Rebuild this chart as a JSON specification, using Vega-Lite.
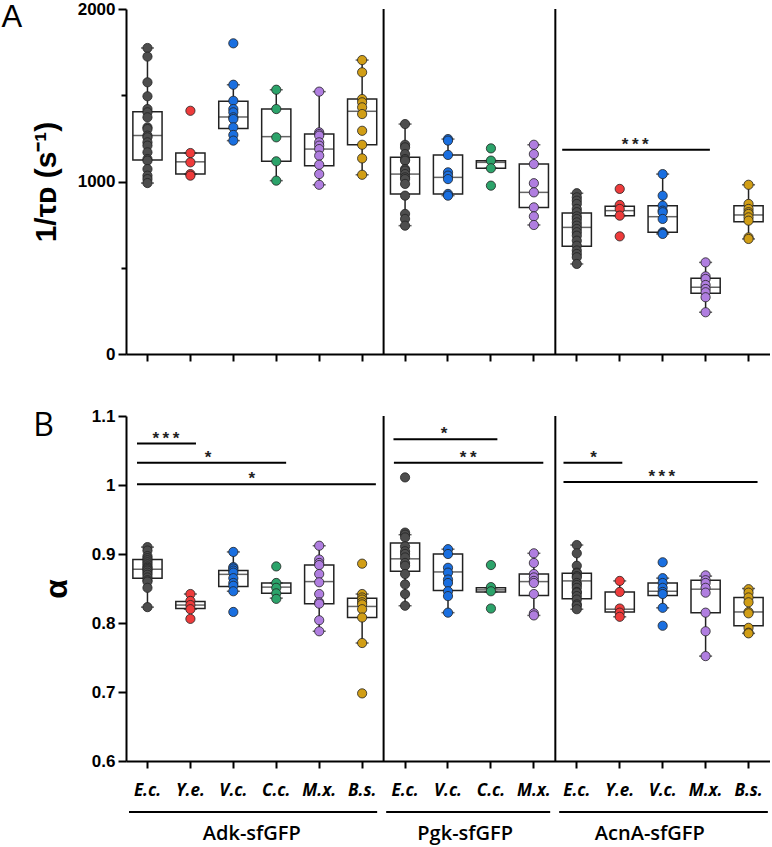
{
"$schema": "https://vega.github.io/schema/vega-lite/v6.json",
"background": "white",
"padding": {"left": 1, "top": 0, "right": 0, "bottom": 0},
"spacing": 45,
"config": {"view": {"stroke": null}, "font": "Liberation Sans"},
"datasets": {
"ptsA": [
{"cat":"Adk:E.c.","v":1774},{"cat":"Adk:E.c.","v":1724},{"cat":"Adk:E.c.","v":1575},{"cat":"Adk:E.c.","v":1494},{"cat":"Adk:E.c.","v":1420},{"cat":"Adk:E.c.","v":1401},{"cat":"Adk:E.c.","v":1372},{"cat":"Adk:E.c.","v":1314},{"cat":"Adk:E.c.","v":1304},{"cat":"Adk:E.c.","v":1266},{"cat":"Adk:E.c.","v":1256},{"cat":"Adk:E.c.","v":1227},{"cat":"Adk:E.c.","v":1208},{"cat":"Adk:E.c.","v":1169},{"cat":"Adk:E.c.","v":1130},{"cat":"Adk:E.c.","v":1121},{"cat":"Adk:E.c.","v":1072},{"cat":"Adk:E.c.","v":1034},{"cat":"Adk:E.c.","v":1014},{"cat":"Adk:E.c.","v":991},
{"cat":"Adk:Y.e.","v":1410},{"cat":"Adk:Y.e.","v":1165},{"cat":"Adk:Y.e.","v":1111},{"cat":"Adk:Y.e.","v":1043},{"cat":"Adk:Y.e.","v":1034},
{"cat":"Adk:V.c.","v":1801},{"cat":"Adk:V.c.","v":1561},{"cat":"Adk:V.c.","v":1468},{"cat":"Adk:V.c.","v":1420},{"cat":"Adk:V.c.","v":1401},{"cat":"Adk:V.c.","v":1372},{"cat":"Adk:V.c.","v":1362},{"cat":"Adk:V.c.","v":1314},{"cat":"Adk:V.c.","v":1270},{"cat":"Adk:V.c.","v":1237},
{"cat":"Adk:C.c.","v":1532},{"cat":"Adk:C.c.","v":1420},{"cat":"Adk:C.c.","v":1256},{"cat":"Adk:C.c.","v":1117},{"cat":"Adk:C.c.","v":1005},
{"cat":"Adk:M.x.","v":1521},{"cat":"Adk:M.x.","v":1285},{"cat":"Adk:M.x.","v":1275},{"cat":"Adk:M.x.","v":1266},{"cat":"Adk:M.x.","v":1227},{"cat":"Adk:M.x.","v":1208},{"cat":"Adk:M.x.","v":1188},{"cat":"Adk:M.x.","v":1150},{"cat":"Adk:M.x.","v":1097},{"cat":"Adk:M.x.","v":1043},{"cat":"Adk:M.x.","v":981},
{"cat":"Adk:B.s.","v":1704},{"cat":"Adk:B.s.","v":1633},{"cat":"Adk:B.s.","v":1478},{"cat":"Adk:B.s.","v":1459},{"cat":"Adk:B.s.","v":1430},{"cat":"Adk:B.s.","v":1391},{"cat":"Adk:B.s.","v":1294},{"cat":"Adk:B.s.","v":1213},{"cat":"Adk:B.s.","v":1134},{"cat":"Adk:B.s.","v":1039},
{"cat":"Pgk:E.c.","v":1333},{"cat":"Pgk:E.c.","v":1213},{"cat":"Pgk:E.c.","v":1198},{"cat":"Pgk:E.c.","v":1159},{"cat":"Pgk:E.c.","v":1130},{"cat":"Pgk:E.c.","v":1121},{"cat":"Pgk:E.c.","v":1072},{"cat":"Pgk:E.c.","v":1063},{"cat":"Pgk:E.c.","v":1043},{"cat":"Pgk:E.c.","v":1024},{"cat":"Pgk:E.c.","v":1014},{"cat":"Pgk:E.c.","v":986},{"cat":"Pgk:E.c.","v":918},{"cat":"Pgk:E.c.","v":812},{"cat":"Pgk:E.c.","v":783},{"cat":"Pgk:E.c.","v":744},
{"cat":"Pgk:V.c.","v":1246},{"cat":"Pgk:V.c.","v":1237},{"cat":"Pgk:V.c.","v":1154},{"cat":"Pgk:V.c.","v":1053},{"cat":"Pgk:V.c.","v":1034},{"cat":"Pgk:V.c.","v":1014},{"cat":"Pgk:V.c.","v":928},{"cat":"Pgk:V.c.","v":918},
{"cat":"Pgk:C.c.","v":1192},{"cat":"Pgk:C.c.","v":1121},{"cat":"Pgk:C.c.","v":1077},{"cat":"Pgk:C.c.","v":976},
{"cat":"Pgk:M.x.","v":1213},{"cat":"Pgk:M.x.","v":1159},{"cat":"Pgk:M.x.","v":1101},{"cat":"Pgk:M.x.","v":990},{"cat":"Pgk:M.x.","v":937},{"cat":"Pgk:M.x.","v":850},{"cat":"Pgk:M.x.","v":798},{"cat":"Pgk:M.x.","v":748},
{"cat":"AcnA:E.c.","v":932},{"cat":"AcnA:E.c.","v":908},{"cat":"AcnA:E.c.","v":889},{"cat":"AcnA:E.c.","v":870},{"cat":"AcnA:E.c.","v":841},{"cat":"AcnA:E.c.","v":822},{"cat":"AcnA:E.c.","v":798},{"cat":"AcnA:E.c.","v":783},{"cat":"AcnA:E.c.","v":763},{"cat":"AcnA:E.c.","v":744},{"cat":"AcnA:E.c.","v":725},{"cat":"AcnA:E.c.","v":706},{"cat":"AcnA:E.c.","v":686},{"cat":"AcnA:E.c.","v":657},{"cat":"AcnA:E.c.","v":628},{"cat":"AcnA:E.c.","v":600},{"cat":"AcnA:E.c.","v":580},{"cat":"AcnA:E.c.","v":561},{"cat":"AcnA:E.c.","v":522},
{"cat":"AcnA:Y.e.","v":957},{"cat":"AcnA:Y.e.","v":864},{"cat":"AcnA:Y.e.","v":841},{"cat":"AcnA:Y.e.","v":802},{"cat":"AcnA:Y.e.","v":682},
{"cat":"AcnA:V.c.","v":1043},{"cat":"AcnA:V.c.","v":918},{"cat":"AcnA:V.c.","v":860},{"cat":"AcnA:V.c.","v":831},{"cat":"AcnA:V.c.","v":822},{"cat":"AcnA:V.c.","v":783},{"cat":"AcnA:V.c.","v":706},{"cat":"AcnA:V.c.","v":701},{"cat":"AcnA:V.c.","v":696},
{"cat":"AcnA:M.x.","v":531},{"cat":"AcnA:M.x.","v":450},{"cat":"AcnA:M.x.","v":435},{"cat":"AcnA:M.x.","v":400},{"cat":"AcnA:M.x.","v":377},{"cat":"AcnA:M.x.","v":358},{"cat":"AcnA:M.x.","v":329},{"cat":"AcnA:M.x.","v":242},
{"cat":"AcnA:B.s.","v":981},{"cat":"AcnA:B.s.","v":870},{"cat":"AcnA:B.s.","v":841},{"cat":"AcnA:B.s.","v":822},{"cat":"AcnA:B.s.","v":812},{"cat":"AcnA:B.s.","v":792},{"cat":"AcnA:B.s.","v":773},{"cat":"AcnA:B.s.","v":676},{"cat":"AcnA:B.s.","v":667}
],
"boxA": [
{"cat":"Adk:E.c.","lo":991,"q1":1124,"med":1266,"q3":1405,"hi":1774},
{"cat":"Adk:Y.e.","lo":1043,"q1":1043,"med":1114,"q3":1165,"hi":1165},
{"cat":"Adk:V.c.","lo":1237,"q1":1307,"med":1374,"q3":1465,"hi":1561},
{"cat":"Adk:C.c.","lo":1005,"q1":1117,"med":1260,"q3":1420,"hi":1532},
{"cat":"Adk:M.x.","lo":981,"q1":1092,"med":1188,"q3":1276,"hi":1521},
{"cat":"Adk:B.s.","lo":1039,"q1":1213,"med":1407,"q3":1478,"hi":1704},
{"cat":"Pgk:E.c.","lo":744,"q1":928,"med":1043,"q3":1140,"hi":1333},
{"cat":"Pgk:V.c.","lo":918,"q1":928,"med":1024,"q3":1154,"hi":1246},
{"cat":"Pgk:C.c.","lo":1077,"q1":1077,"med":1111,"q3":1121,"hi":1121},
{"cat":"Pgk:M.x.","lo":748,"q1":850,"med":937,"q3":1101,"hi":1213},
{"cat":"AcnA:E.c.","lo":522,"q1":624,"med":734,"q3":817,"hi":932},
{"cat":"AcnA:Y.e.","lo":802,"q1":802,"med":831,"q3":856,"hi":856},
{"cat":"AcnA:V.c.","lo":696,"q1":706,"med":796,"q3":860,"hi":1043},
{"cat":"AcnA:M.x.","lo":242,"q1":352,"med":387,"q3":439,"hi":531},
{"cat":"AcnA:B.s.","lo":667,"q1":767,"med":806,"q3":860,"hi":981}
],
"ptsB": [
{"cat":"Adk:E.c.","v":0.910},{"cat":"Adk:E.c.","v":0.905},{"cat":"Adk:E.c.","v":0.897},{"cat":"Adk:E.c.","v":0.894},{"cat":"Adk:E.c.","v":0.891},{"cat":"Adk:E.c.","v":0.888},{"cat":"Adk:E.c.","v":0.885},{"cat":"Adk:E.c.","v":0.882},{"cat":"Adk:E.c.","v":0.880},{"cat":"Adk:E.c.","v":0.878},{"cat":"Adk:E.c.","v":0.876},{"cat":"Adk:E.c.","v":0.873},{"cat":"Adk:E.c.","v":0.870},{"cat":"Adk:E.c.","v":0.866},{"cat":"Adk:E.c.","v":0.862},{"cat":"Adk:E.c.","v":0.860},{"cat":"Adk:E.c.","v":0.851},{"cat":"Adk:E.c.","v":0.823},
{"cat":"Adk:Y.e.","v":0.842},{"cat":"Adk:Y.e.","v":0.832},{"cat":"Adk:Y.e.","v":0.826},{"cat":"Adk:Y.e.","v":0.820},{"cat":"Adk:Y.e.","v":0.806},
{"cat":"Adk:V.c.","v":0.903},{"cat":"Adk:V.c.","v":0.881},{"cat":"Adk:V.c.","v":0.879},{"cat":"Adk:V.c.","v":0.876},{"cat":"Adk:V.c.","v":0.873},{"cat":"Adk:V.c.","v":0.865},{"cat":"Adk:V.c.","v":0.858},{"cat":"Adk:V.c.","v":0.854},{"cat":"Adk:V.c.","v":0.846},{"cat":"Adk:V.c.","v":0.816},
{"cat":"Adk:C.c.","v":0.882},{"cat":"Adk:C.c.","v":0.858},{"cat":"Adk:C.c.","v":0.851},{"cat":"Adk:C.c.","v":0.843},{"cat":"Adk:C.c.","v":0.835},
{"cat":"Adk:M.x.","v":0.912},{"cat":"Adk:M.x.","v":0.892},{"cat":"Adk:M.x.","v":0.887},{"cat":"Adk:M.x.","v":0.884},{"cat":"Adk:M.x.","v":0.871},{"cat":"Adk:M.x.","v":0.859},{"cat":"Adk:M.x.","v":0.842},{"cat":"Adk:M.x.","v":0.830},{"cat":"Adk:M.x.","v":0.828},{"cat":"Adk:M.x.","v":0.804},{"cat":"Adk:M.x.","v":0.788},
{"cat":"Adk:B.s.","v":0.886},{"cat":"Adk:B.s.","v":0.842},{"cat":"Adk:B.s.","v":0.837},{"cat":"Adk:B.s.","v":0.834},{"cat":"Adk:B.s.","v":0.830},{"cat":"Adk:B.s.","v":0.827},{"cat":"Adk:B.s.","v":0.820},{"cat":"Adk:B.s.","v":0.808},{"cat":"Adk:B.s.","v":0.771},{"cat":"Adk:B.s.","v":0.698},
{"cat":"Pgk:E.c.","v":1.011},{"cat":"Pgk:E.c.","v":0.931},{"cat":"Pgk:E.c.","v":0.928},{"cat":"Pgk:E.c.","v":0.924},{"cat":"Pgk:E.c.","v":0.911},{"cat":"Pgk:E.c.","v":0.904},{"cat":"Pgk:E.c.","v":0.900},{"cat":"Pgk:E.c.","v":0.895},{"cat":"Pgk:E.c.","v":0.887},{"cat":"Pgk:E.c.","v":0.883},{"cat":"Pgk:E.c.","v":0.871},{"cat":"Pgk:E.c.","v":0.856},{"cat":"Pgk:E.c.","v":0.842},{"cat":"Pgk:E.c.","v":0.825},
{"cat":"Pgk:V.c.","v":0.907},{"cat":"Pgk:V.c.","v":0.900},{"cat":"Pgk:V.c.","v":0.880},{"cat":"Pgk:V.c.","v":0.873},{"cat":"Pgk:V.c.","v":0.863},{"cat":"Pgk:V.c.","v":0.858},{"cat":"Pgk:V.c.","v":0.846},{"cat":"Pgk:V.c.","v":0.839},{"cat":"Pgk:V.c.","v":0.815},
{"cat":"Pgk:C.c.","v":0.884},{"cat":"Pgk:C.c.","v":0.852},{"cat":"Pgk:C.c.","v":0.846},{"cat":"Pgk:C.c.","v":0.821},
{"cat":"Pgk:M.x.","v":0.901},{"cat":"Pgk:M.x.","v":0.887},{"cat":"Pgk:M.x.","v":0.871},{"cat":"Pgk:M.x.","v":0.866},{"cat":"Pgk:M.x.","v":0.861},{"cat":"Pgk:M.x.","v":0.858},{"cat":"Pgk:M.x.","v":0.842},{"cat":"Pgk:M.x.","v":0.814},{"cat":"Pgk:M.x.","v":0.811},
{"cat":"AcnA:E.c.","v":0.913},{"cat":"AcnA:E.c.","v":0.901},{"cat":"AcnA:E.c.","v":0.883},{"cat":"AcnA:E.c.","v":0.873},{"cat":"AcnA:E.c.","v":0.872},{"cat":"AcnA:E.c.","v":0.868},{"cat":"AcnA:E.c.","v":0.866},{"cat":"AcnA:E.c.","v":0.858},{"cat":"AcnA:E.c.","v":0.855},{"cat":"AcnA:E.c.","v":0.851},{"cat":"AcnA:E.c.","v":0.845},{"cat":"AcnA:E.c.","v":0.844},{"cat":"AcnA:E.c.","v":0.839},{"cat":"AcnA:E.c.","v":0.834},{"cat":"AcnA:E.c.","v":0.827},{"cat":"AcnA:E.c.","v":0.825},{"cat":"AcnA:E.c.","v":0.820},
{"cat":"AcnA:Y.e.","v":0.861},{"cat":"AcnA:Y.e.","v":0.845},{"cat":"AcnA:Y.e.","v":0.821},{"cat":"AcnA:Y.e.","v":0.815},{"cat":"AcnA:Y.e.","v":0.809},
{"cat":"AcnA:V.c.","v":0.888},{"cat":"AcnA:V.c.","v":0.865},{"cat":"AcnA:V.c.","v":0.858},{"cat":"AcnA:V.c.","v":0.851},{"cat":"AcnA:V.c.","v":0.845},{"cat":"AcnA:V.c.","v":0.842},{"cat":"AcnA:V.c.","v":0.822},{"cat":"AcnA:V.c.","v":0.796},
{"cat":"AcnA:M.x.","v":0.869},{"cat":"AcnA:M.x.","v":0.862},{"cat":"AcnA:M.x.","v":0.858},{"cat":"AcnA:M.x.","v":0.851},{"cat":"AcnA:M.x.","v":0.844},{"cat":"AcnA:M.x.","v":0.815},{"cat":"AcnA:M.x.","v":0.788},{"cat":"AcnA:M.x.","v":0.752},
{"cat":"AcnA:B.s.","v":0.849},{"cat":"AcnA:B.s.","v":0.844},{"cat":"AcnA:B.s.","v":0.837},{"cat":"AcnA:B.s.","v":0.830},{"cat":"AcnA:B.s.","v":0.816},{"cat":"AcnA:B.s.","v":0.814},{"cat":"AcnA:B.s.","v":0.793},{"cat":"AcnA:B.s.","v":0.786},{"cat":"AcnA:B.s.","v":0.785}
],
"boxB": [
{"cat":"Adk:E.c.","lo":0.823,"q1":0.865,"med":0.878,"q3":0.892,"hi":0.910},
{"cat":"Adk:Y.e.","lo":0.820,"q1":0.821,"med":0.826,"q3":0.831,"hi":0.842},
{"cat":"Adk:V.c.","lo":0.846,"q1":0.853,"med":0.8705,"q3":0.876,"hi":0.903},
{"cat":"Adk:C.c.","lo":0.836,"q1":0.843,"med":0.852,"q3":0.858,"hi":0.858},
{"cat":"Adk:M.x.","lo":0.788,"q1":0.828,"med":0.860,"q3":0.884,"hi":0.912},
{"cat":"Adk:B.s.","lo":0.771,"q1":0.808,"med":0.824,"q3":0.836,"hi":0.842},
{"cat":"Pgk:E.c.","lo":0.825,"q1":0.875,"med":0.893,"q3":0.916,"hi":0.928},
{"cat":"Pgk:V.c.","lo":0.815,"q1":0.847,"med":0.874,"q3":0.900,"hi":0.907},
{"cat":"Pgk:C.c.","lo":0.845,"q1":0.845,"med":0.848,"q3":0.851,"hi":0.851},
{"cat":"Pgk:M.x.","lo":0.811,"q1":0.840,"med":0.860,"q3":0.871,"hi":0.901},
{"cat":"AcnA:E.c.","lo":0.820,"q1":0.835,"med":0.861,"q3":0.872,"hi":0.913},
{"cat":"AcnA:Y.e.","lo":0.809,"q1":0.816,"med":0.820,"q3":0.845,"hi":0.861},
{"cat":"AcnA:V.c.","lo":0.822,"q1":0.840,"med":0.846,"q3":0.858,"hi":0.865},
{"cat":"AcnA:M.x.","lo":0.752,"q1":0.815,"med":0.849,"q3":0.862,"hi":0.868},
{"cat":"AcnA:B.s.","lo":0.785,"q1":0.796,"med":0.816,"q3":0.837,"hi":0.850}
],
"seps": [{"u":6},{"u":10}],
"sigA": [{"u":10.16,"u2":13.6,"um":11.86,"y":1184,"label":"*\u2009*\u2009*"}],
"sigB": [
{"u":0.256,"u2":1.63,"um":0.93,"y":1.060,"label":"*\u2009*\u2009*"},
{"u":0.256,"u2":3.73,"um":1.91,"y":1.0324,"label":"*"},
{"u":0.256,"u2":5.82,"um":2.93,"y":1.001,"label":"*"},
{"u":6.23,"u2":8.65,"um":7.41,"y":1.0662,"label":"*"},
{"u":6.24,"u2":9.72,"um":7.97,"y":1.0324,"label":"*\u2009*"},
{"u":10.19,"u2":11.56,"um":10.89,"y":1.0324,"label":"*"},
{"u":10.19,"u2":14.71,"um":12.48,"y":1.0043,"label":"*\u2009*\u2009*"}
],
"groups": [
{"u":0.07,"u2":5.85,"um":2.93,"y":0.526,"ty":0.4935,"label":"Adk-sfGFP"},
{"u":6.06,"u2":9.88,"um":7.9,"y":0.526,"ty":0.4935,"label":"Pgk-sfGFP"},
{"u":10.09,"u2":14.95,"um":12.2,"y":0.526,"ty":0.4935,"label":"AcnA-sfGFP"}
],
"letterA": [{"u":-2.66,"y":1894,"label":"A"}],
"letterB": [{"u":-1.92,"y":1.0855,"label":"B"}]
},
"vconcat": [
{
"width": 644, "height": 345,
"resolve": {"scale": {"x": "independent"}},
"layer": [
{
"encoding": {"x": {"field": "cat", "type": "nominal",
  "scale": {"type": "band", "domain": ["Adk:E.c.","Adk:Y.e.","Adk:V.c.","Adk:C.c.","Adk:M.x.","Adk:B.s.","Pgk:E.c.","Pgk:V.c.","Pgk:C.c.","Pgk:M.x.","AcnA:E.c.","AcnA:Y.e.","AcnA:V.c.","AcnA:M.x.","AcnA:B.s."], "paddingInner": 0, "paddingOuter": 0},
  "axis": {"title": null, "labels": false, "tickSize": 7, "tickWidth": 2, "tickColor": "black", "domainColor": "black", "domainWidth": 2, "grid": false}}},
"layer": [
{"data": {"name": "boxA"}, "mark": {"type": "rule", "color": "#222222", "strokeWidth": 1.5},
 "encoding": {"y": {"field": "lo", "type": "quantitative", "scale": {"domain": [0, 2000], "nice": false},
   "axis": {"title": "1/τᴅ (s⁻¹)", "values": [0, 500, 1000, 1500, 2000], "format": "d",
     "labelExpr": "datum.value % 1000 === 0 ? datum.label : ''",
     "tickSize": {"condition": {"test": "datum.value % 1000 === 0", "value": 8}, "value": 5},
     "tickWidth": 2, "tickColor": "black", "domainColor": "black", "domainWidth": 2, "grid": false,
     "labelFontSize": 17, "labelFontWeight": "bold", "labelColor": "black", "labelPadding": 3,
     "titleFontSize": 30, "titleFontWeight": "bold", "titleColor": "black", "titlePadding": 16}},
   "y2": {"field": "hi"}}},
{"data": {"name": "boxA"}, "mark": {"type": "bar", "fill": "white", "stroke": "#222222", "strokeWidth": 1.5, "width": {"band": 0.68}},
 "encoding": {"y": {"field": "q1", "type": "quantitative"}, "y2": {"field": "q3"}}},
{"data": {"name": "boxA"}, "mark": {"type": "tick", "color": "#222222", "thickness": 1.5, "size": 29},
 "encoding": {"y": {"field": "med", "type": "quantitative"}}},
{"data": {"name": "boxA"}, "mark": {"type": "tick", "color": "#222222", "thickness": 1.5, "size": 13},
 "encoding": {"y": {"field": "lo", "type": "quantitative"}}},
{"data": {"name": "boxA"}, "mark": {"type": "tick", "color": "#222222", "thickness": 1.5, "size": 13},
 "encoding": {"y": {"field": "hi", "type": "quantitative"}}},
{"data": {"name": "ptsA"}, "mark": {"type": "circle", "size": 85, "stroke": "#222222", "strokeWidth": 0.8, "opacity": 1},
 "encoding": {"y": {"field": "v", "type": "quantitative"},
   "color": {"field": "cat", "type": "nominal", "legend": null,
     "scale": {"domain": ["Adk:E.c.","Adk:Y.e.","Adk:V.c.","Adk:C.c.","Adk:M.x.","Adk:B.s.","Pgk:E.c.","Pgk:V.c.","Pgk:C.c.","Pgk:M.x.","AcnA:E.c.","AcnA:Y.e.","AcnA:V.c.","AcnA:M.x.","AcnA:B.s."],
       "range": ["#4d4d4d","#ee3b3b","#1a6fe0","#2ca36a","#b07ee0","#d19e16","#4d4d4d","#1a6fe0","#2ca36a","#b07ee0","#4d4d4d","#ee3b3b","#1a6fe0","#b07ee0","#d19e16"]}}}}
]
},
{
"encoding": {"x": {"field": "u", "type": "quantitative", "scale": {"domain": [0, 15], "nice": false, "zero": false}, "axis": null}},
"layer": [
{"data": {"name": "seps"}, "mark": {"type": "rule", "color": "black", "strokeWidth": 2}, "encoding": {}},
{"data": {"name": "sigA"}, "mark": {"type": "rule", "color": "black", "strokeWidth": 2},
 "encoding": {"x2": {"field": "u2"}, "y": {"field": "y", "type": "quantitative"}}},
{"data": {"name": "sigA"}, "mark": {"type": "text", "font": "Liberation Sans", "fontSize": 17, "fontWeight": "bold", "baseline": "alphabetic", "align": "center", "color": "#222222"},
 "encoding": {"x": {"field": "um", "type": "quantitative"}, "y": {"field": "y", "type": "quantitative"}, "text": {"field": "label"}}},
{"data": {"name": "letterA"}, "mark": {"type": "text", "font": "Liberation Sans", "fontSize": 31, "baseline": "alphabetic", "align": "center", "color": "black"},
 "encoding": {"y": {"field": "y", "type": "quantitative"}, "text": {"field": "label"}}}
]
}
]
},
{
"width": 644, "height": 345,
"resolve": {"scale": {"x": "independent"}},
"layer": [
{
"encoding": {"x": {"field": "cat", "type": "nominal",
  "scale": {"type": "band", "domain": ["Adk:E.c.","Adk:Y.e.","Adk:V.c.","Adk:C.c.","Adk:M.x.","Adk:B.s.","Pgk:E.c.","Pgk:V.c.","Pgk:C.c.","Pgk:M.x.","AcnA:E.c.","AcnA:Y.e.","AcnA:V.c.","AcnA:M.x.","AcnA:B.s."], "paddingInner": 0, "paddingOuter": 0},
  "axis": {"title": null, "labelExpr": "split(datum.value, ':')[1]", "labelAngle": 0, "labelFont": "Open Sans", "labelFontSize": 17, "labelFontStyle": "italic", "labelFontWeight": "bold", "labelColor": "black", "labelPadding": 14,
    "tickSize": 7, "tickWidth": 2, "tickColor": "black", "domainColor": "black", "domainWidth": 2, "grid": false}}},
"layer": [
{"data": {"name": "boxB"}, "mark": {"type": "rule", "color": "#222222", "strokeWidth": 1.5},
 "encoding": {"y": {"field": "lo", "type": "quantitative", "scale": {"domain": [0.6, 1.1], "nice": false, "zero": false},
   "axis": {"title": "α", "values": [0.6, 0.65, 0.7, 0.75, 0.8, 0.85, 0.9, 0.95, 1, 1.05, 1.1], "format": "~g",
     "labelExpr": "abs(datum.value*10 - round(datum.value*10)) < 0.001 ? datum.label : ''",
     "tickSize": {"condition": {"test": "abs(datum.value*10 - round(datum.value*10)) < 0.001", "value": 8}, "value": 5},
     "tickWidth": 2, "tickColor": "black", "domainColor": "black", "domainWidth": 2, "grid": false,
     "labelFontSize": 17, "labelFontWeight": "bold", "labelColor": "black", "labelPadding": 3,
     "titleFontSize": 32, "titleFontWeight": "bold", "titleColor": "black", "titlePadding": 18}},
   "y2": {"field": "hi"}}},
{"data": {"name": "boxB"}, "mark": {"type": "bar", "fill": "white", "stroke": "#222222", "strokeWidth": 1.5, "width": {"band": 0.68}},
 "encoding": {"y": {"field": "q1", "type": "quantitative"}, "y2": {"field": "q3"}}},
{"data": {"name": "boxB"}, "mark": {"type": "tick", "color": "#222222", "thickness": 1.5, "size": 29},
 "encoding": {"y": {"field": "med", "type": "quantitative"}}},
{"data": {"name": "boxB"}, "mark": {"type": "tick", "color": "#222222", "thickness": 1.5, "size": 13},
 "encoding": {"y": {"field": "lo", "type": "quantitative"}}},
{"data": {"name": "boxB"}, "mark": {"type": "tick", "color": "#222222", "thickness": 1.5, "size": 13},
 "encoding": {"y": {"field": "hi", "type": "quantitative"}}},
{"data": {"name": "ptsB"}, "mark": {"type": "circle", "size": 85, "stroke": "#222222", "strokeWidth": 0.8, "opacity": 1},
 "encoding": {"y": {"field": "v", "type": "quantitative"},
   "color": {"field": "cat", "type": "nominal", "legend": null,
     "scale": {"domain": ["Adk:E.c.","Adk:Y.e.","Adk:V.c.","Adk:C.c.","Adk:M.x.","Adk:B.s.","Pgk:E.c.","Pgk:V.c.","Pgk:C.c.","Pgk:M.x.","AcnA:E.c.","AcnA:Y.e.","AcnA:V.c.","AcnA:M.x.","AcnA:B.s."],
       "range": ["#4d4d4d","#ee3b3b","#1a6fe0","#2ca36a","#b07ee0","#d19e16","#4d4d4d","#1a6fe0","#2ca36a","#b07ee0","#4d4d4d","#ee3b3b","#1a6fe0","#b07ee0","#d19e16"]}}}}
]
},
{
"encoding": {"x": {"field": "u", "type": "quantitative", "scale": {"domain": [0, 15], "nice": false, "zero": false}, "axis": null}},
"layer": [
{"data": {"name": "seps"}, "mark": {"type": "rule", "color": "black", "strokeWidth": 2}, "encoding": {}},
{"data": {"name": "sigB"}, "mark": {"type": "rule", "color": "black", "strokeWidth": 2},
 "encoding": {"x2": {"field": "u2"}, "y": {"field": "y", "type": "quantitative"}}},
{"data": {"name": "sigB"}, "mark": {"type": "text", "font": "Liberation Sans", "fontSize": 17, "fontWeight": "bold", "baseline": "alphabetic", "align": "center", "color": "#222222"},
 "encoding": {"x": {"field": "um", "type": "quantitative"}, "y": {"field": "y", "type": "quantitative"}, "text": {"field": "label"}}},
{"data": {"name": "groups"}, "mark": {"type": "rule", "color": "black", "strokeWidth": 2},
 "encoding": {"x2": {"field": "u2"}, "y": {"field": "y", "type": "quantitative"}}},
{"data": {"name": "groups"}, "mark": {"type": "text", "font": "Open Sans", "fontSize": 20, "fontWeight": 600, "baseline": "middle", "align": "center", "color": "black"},
 "encoding": {"x": {"field": "um", "type": "quantitative"}, "y": {"field": "ty", "type": "quantitative"}, "text": {"field": "label"}}},
{"data": {"name": "letterB"}, "mark": {"type": "text", "font": "Open Sans", "fontSize": 32, "baseline": "middle", "align": "center", "color": "black"},
 "encoding": {"y": {"field": "y", "type": "quantitative"}, "text": {"field": "label"}}}
]
}
]
}
]
}
